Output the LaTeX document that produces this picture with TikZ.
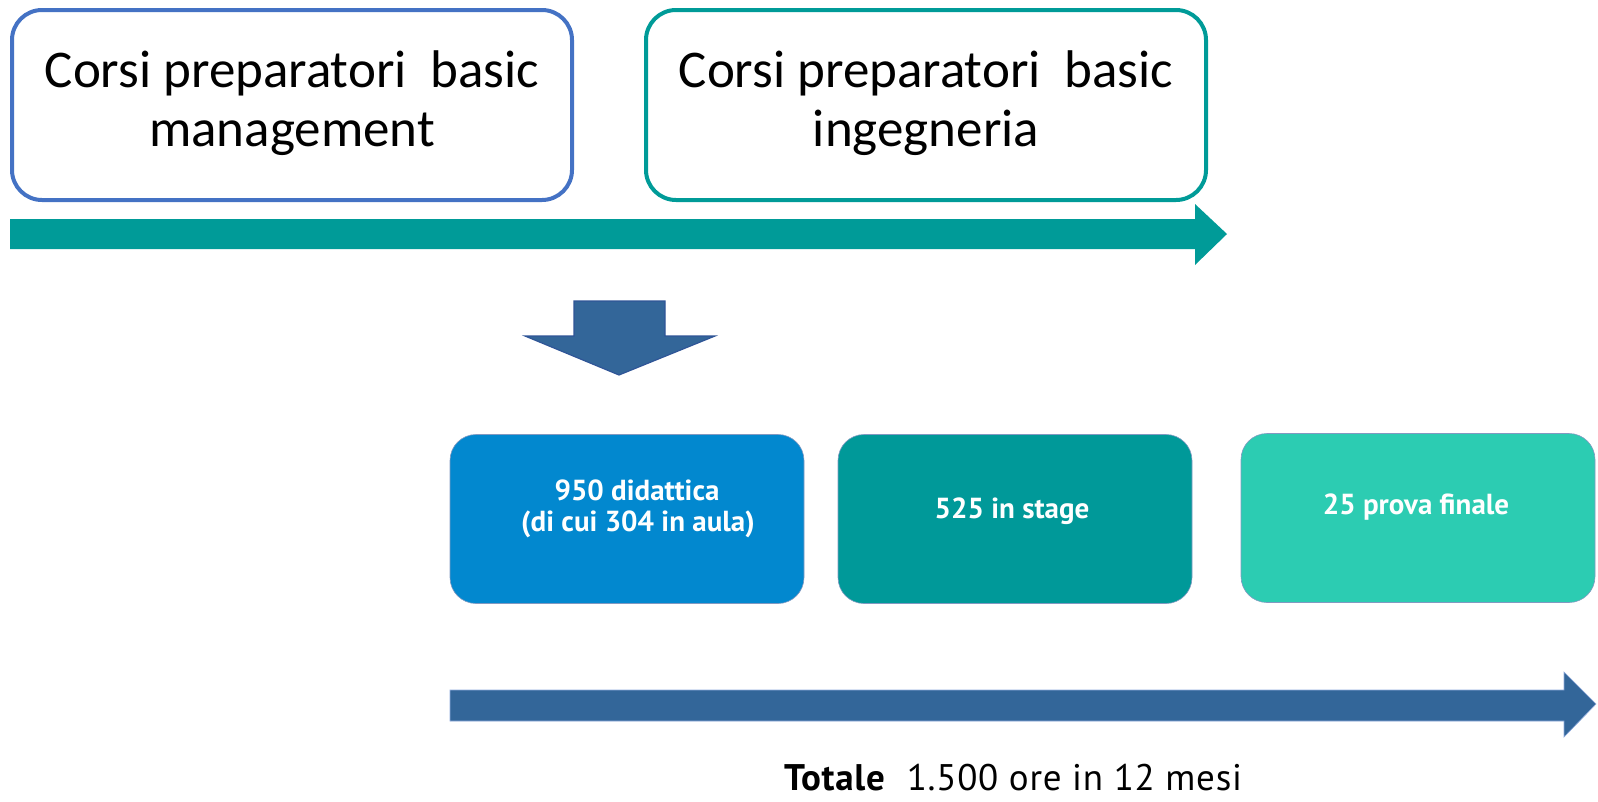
\documentclass[tikz,border=0pt]{standalone}
\usepackage{fontspec}
\setmainfont{Carlito}
\newfontfamily\dincond{PT Sans}
\newfontfamily\dinreg[LetterSpace=2]{PT Sans}
\definecolor{tealA}{HTML}{009B98}
\definecolor{blueOut}{HTML}{4472C4}
\definecolor{steel}{HTML}{336699}
\definecolor{steelB}{HTML}{2F5597}
\definecolor{boxA}{HTML}{0288CF}
\definecolor{boxB}{HTML}{009999}
\definecolor{boxC}{HTML}{2CCCB2}
\tikzset{
  topbox/.style={rounded corners=30pt, line width=4pt, fill=white, minimum width=560pt, minimum height=190pt, inner sep=0pt},
  toptext/.style={anchor=base, inner sep=0pt, font=\fontsize{53}{61}\selectfont},
  phase/.style={rounded corners=26pt, draw=steelB!60, line width=0.6pt, minimum width=354pt, minimum height=169pt, inner sep=0pt},
  phasetext/.style={anchor=base, inner sep=0pt, text=white, font=\dincond\bfseries\fontsize{29}{35}\selectfont},
}
\begin{document}
\begin{tikzpicture}[x=1pt,y=-1pt]
\useasboundingbox (0,0) rectangle (1598,801);
% top boxes
\node[topbox, draw=blueOut] (b1) at (292,105) {};
\node[topbox, draw=tealA] (b2) at (926,105) {};
\node[toptext] (t1a) at (292,87) {Corsi preparatori\ \ basic};
\node[toptext] (t1b) at (292,146) {management};
\node[toptext] (t2a) at (926,87) {Corsi preparatori\ \ basic};
\node[toptext] (t2b) at (926,146) {ingegneria};
% top arrow
\fill[tealA] (10,219) -- (1195,219) -- (1195,204) -- (1227,234) -- (1195,265) -- (1195,249) -- (10,249) -- cycle;
% down arrow
\filldraw[fill=steel, draw=steelB, line width=1.2pt] (574,301) -- (665,301) -- (665,336) -- (715,336) -- (619,375) -- (525,336) -- (574,336) -- cycle;
% phase boxes
\node[phase, fill=boxA] (pA) at (627,519) {};
\node[phase, fill=boxB] (pB) at (1015,519) {};
\node[phase, fill=boxC] (pC) at (1418,518) {};
\node[phasetext] (tA1) at (637,500) {950 didattica};
\node[phasetext] (tA2) at (638,531) {(di cui 304 in aula)};
\node[phasetext] (tB) at (1012,518) {525 in stage};
\node[phasetext] (tC) at (1416,514) {25 prova finale};
% bottom arrow
\filldraw[fill=steel, draw=blueOut!60, line width=0.6pt] (450,690) -- (1564,690) -- (1564,672) -- (1596,704) -- (1564,737) -- (1564,721) -- (450,721) -- cycle;
% total
\node[anchor=base, inner sep=0pt, font=\dinreg\fontsize{37}{44}\selectfont] (tot) at (1013,790) {\textbf{Totale}\ \ 1.500 ore in 12 mesi};
\end{tikzpicture}
\end{document}
